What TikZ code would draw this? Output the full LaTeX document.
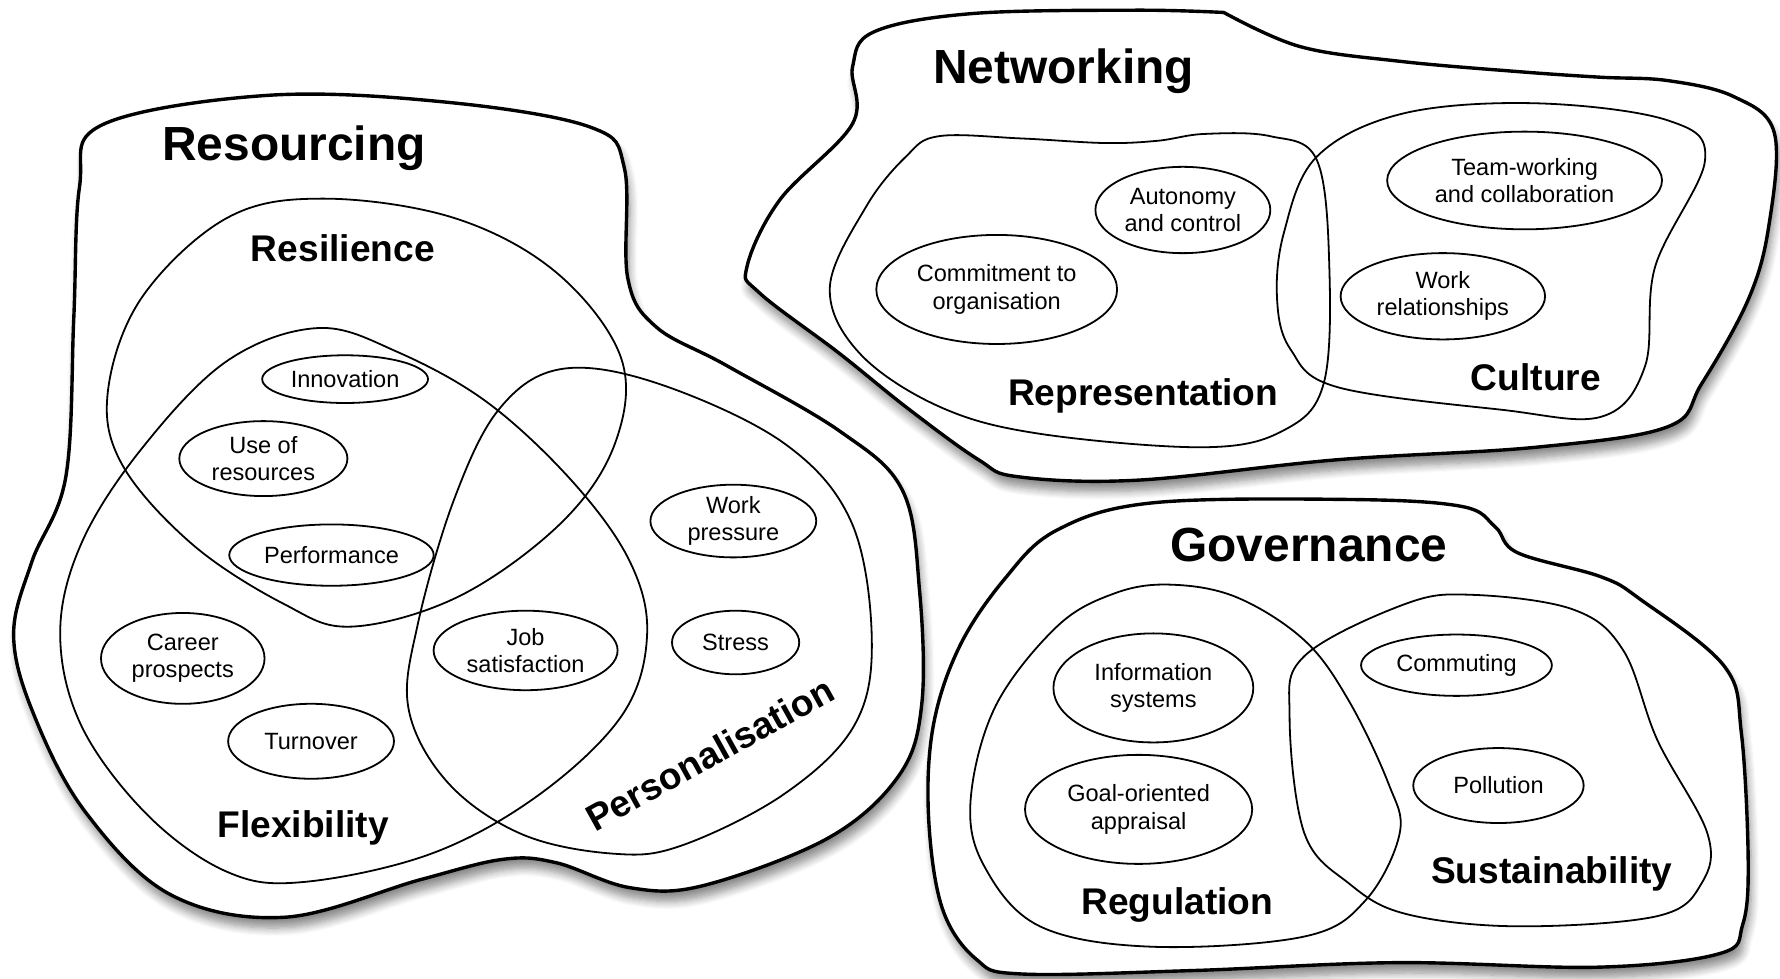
\documentclass[tikz,border=0pt]{standalone}
\usepackage{fontspec}
\setmainfont{Liberation Sans}
\usetikzlibrary{shapes.geometric,shadows.blur}
\tikzset{
  blob/.style={draw, line width=0.85pt, fill=white,
    blur shadow={shadow xshift=0.8pt, shadow yshift=-2.6pt, shadow blur steps=8, shadow blur radius=2pt, shadow opacity=45}},
  zone/.style={draw, line width=0.45pt},
  item/.style={ellipse, draw, line width=0.45pt, inner sep=0pt, align=center, font=\fontsize{5.9}{6.8}\selectfont},
  heading/.style={font=\fontsize{12}{14}\selectfont\bfseries},
  subhead/.style={font=\fontsize{9.3}{11}\selectfont\bfseries}
}
\begin{document}
\begin{tikzpicture}[x=0.01cm,y=-0.01cm]
\useasboundingbox (0,0) rectangle (1568,862);
% Resourcing
\path[blob] plot[smooth cycle, tension=0.6] coordinates {(90,110) (236,84) (393,90) (520,112) (550,148) (553,245) (578,288) (640,322) (740,380) (795,432) (810,520) (812,620) (792,683) (730,738) (620,780) (555,782) (490,760) (443,757) (370,775) (251,808) (150,788) (75,715) (30,630) (12,560) (28,495) (58,420) (65,280) (70,165)};
\draw[zone] plot[smooth cycle, tension=0.6] coordinates {(285,175) (400,192) (490,240) (547,315) (542,390) (495,460) (405,525) (310,552) (250,532) (170,480) (108,410) (95,345) (125,262) (200,192)};
\draw[zone] plot[smooth cycle, tension=0.6] coordinates {(280,289) (350,310) (430,355) (505,425) (555,495) (570,560) (548,630) (475,700) (380,752) (267,777) (200,768) (130,718) (72,640) (53,558) (72,478) (125,395) (200,318)};
\draw[zone] plot[smooth cycle, tension=0.6] coordinates {(495,325) (580,338) (690,390) (750,460) (768,565) (752,640) (690,700) (600,745) (540,752) (460,735) (395,690) (360,625) (368,550) (400,440) (440,360)};
\node[heading] (resourcing) at (259,131) {Resourcing};
\node[subhead] (resilience) at (302,219) {Resilience};
\node[subhead] (flexibility) at (267,729) {Flexibility};
\node[subhead, rotate=29] (personalisation) at (625,664) {Personalisation};
\node[item, minimum width=1.46cm, minimum height=0.42cm] (innovation) at (304,334) {Innovation};
\node[item, minimum width=1.48cm, minimum height=0.66cm] (resources) at (232,404) {Use of\\resources};
\node[item, minimum width=1.8cm, minimum height=0.54cm] (performance) at (292,489) {Performance};
\node[item, minimum width=1.46cm, minimum height=0.64cm] (pressure) at (646,459) {Work\\pressure};
\node[item, minimum width=1.44cm, minimum height=0.8cm] (career) at (161,580) {Career\\prospects};
\node[item, minimum width=1.62cm, minimum height=0.7cm] (satisfaction) at (463,573) {Job\\satisfaction};
\node[item, minimum width=1.12cm, minimum height=0.56cm] (stress) at (648,566) {Stress};
\node[item, minimum width=1.46cm, minimum height=0.66cm] (turnover) at (274,653) {Turnover};
% Networking
\path[blob] plot[smooth, tension=0.6] coordinates {(1078,11) (1145,41) (1233,54) (1336,63) (1409,68) (1469,71) (1527,85) (1563,117) (1558,200) (1540,264) (1499,338) (1469,376) (1353,394) (1178,405) (1002,423) (897,420) (862,405) (800,360) (739,311) (669,258) (658,235) (687,176) (751,109) (751,59) (770,28) (856,12) (1000,9) (1078,11)} -- cycle;
\draw[zone] plot[smooth cycle, tension=0.6] coordinates {(827,120) (900,122) (973,126) (1020,124) (1061,118) (1119,120) (1160,141) (1171,235) (1166,338) (1131,379) (1061,394) (915,382) (827,358) (757,311) (731,253) (763,182) (798,138)};
\draw[zone] plot[smooth cycle, tension=0.6] coordinates {(1160,138) (1236,100) (1353,91) (1469,106) (1502,141) (1458,235) (1449,323) (1411,367) (1323,361) (1178,341) (1137,308) (1125,264) (1131,205)};
\node[heading] (networking) at (937,63) {Networking};
\node[subhead] (representation) at (1007,349) {Representation};
\node[subhead] (culture) at (1353,332) {Culture};
\node[item, minimum width=1.54cm, minimum height=0.76cm] (autonomy) at (1042,185) {Autonomy\\and control};
\node[item, minimum width=2.12cm, minimum height=0.96cm] (commitment) at (878,255) {Commitment to\\organisation};
\node[item, minimum width=2.42cm, minimum height=0.86cm] (teamwork) at (1343,159) {Team-working\\and collaboration};
\node[item, minimum width=1.8cm, minimum height=0.76cm] (relations) at (1271,261) {Work\\relationships};
% Governance
\path[blob] plot[smooth cycle, tension=0.6] coordinates {(931,467) (1015,443) (1188,440) (1287,446) (1317,464) (1337,487) (1410,508) (1445,528) (1519,587) (1534,646) (1540,760) (1535,815) (1515,840) (1408,852) (1231,848) (1050,855) (900,858) (860,845) (830,800) (818,720) (822,640) (845,570) (885,510)};
\draw[zone] plot[smooth cycle, tension=0.6] coordinates {(1030,515) (1089,526) (1149,564) (1188,617) (1223,690) (1233,734) (1203,793) (1149,825) (1015,834) (916,816) (867,763) (855,705) (877,622) (931,552) (981,523)};
\draw[zone] plot[smooth cycle, tension=0.6] coordinates {(1149,578) (1238,532) (1297,524) (1386,537) (1430,573) (1460,652) (1504,734) (1499,778) (1460,807) (1336,816) (1238,805) (1188,778) (1149,734) (1136,631)};
\node[heading] (governance) at (1153,480) {Governance};
\node[subhead] (regulation) at (1037,797) {Regulation};
\node[subhead] (sustainability) at (1367,770) {Sustainability};
\node[item, minimum width=1.76cm, minimum height=0.96cm] (information) at (1016,606) {Information\\systems};
\node[item, minimum width=1.68cm, minimum height=0.54cm] (commuting) at (1283,586) {Commuting};
\node[item, minimum width=2cm, minimum height=0.96cm] (appraisal) at (1003,713) {Goal-oriented\\appraisal};
\node[item, minimum width=1.5cm, minimum height=0.66cm] (pollution) at (1320,692) {Pollution};
\end{tikzpicture}
\end{document}
